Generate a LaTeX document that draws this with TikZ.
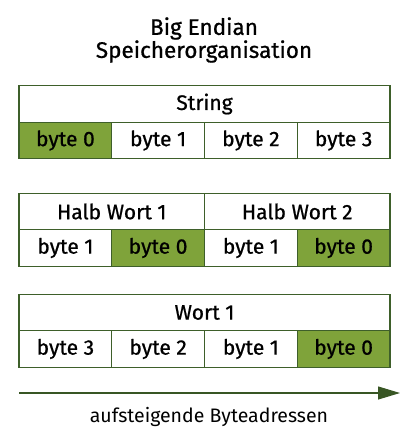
\documentclass[tikz,border=0pt]{standalone}
\usepackage{fontspec}
\setmainfont{Fira Sans}[FakeBold=0.8]
\newfontfamily\lightfont{Fira Sans}
\usetikzlibrary{arrows.meta}
\definecolor{bgreen}{RGB}{127,163,58}
\definecolor{bdark}{RGB}{62,95,42}
\definecolor{adark}{RGB}{56,86,36}
\tikzset{
  cell/.style={draw=bdark, line width=1.1pt, fill=white, minimum width=92.75pt, minimum height=36.5pt, inner sep=0pt, outer sep=0pt, font=\fontsize{21}{24}\selectfont},
  hot/.style={cell, fill=bgreen},
  wide/.style={cell, minimum width=371pt},
  half/.style={cell, minimum width=185.5pt},
}
\begin{document}
\begin{tikzpicture}[x=1pt,y=-1pt]
\useasboundingbox (0,0) rectangle (414,438);
\node[font=\fontsize{22.5}{23}\selectfont, align=center] (title) at (204,40) {Big Endian\\Speicherorganisation};
% row 1
\node[wide] (s) at (204.5,104) {String};
\node[hot] (s0) at (65.4,140.5) {byte 0};
\node[cell] (s1) at (158.1,140.5) {byte 1};
\node[cell] (s2) at (250.9,140.5) {byte 2};
\node[cell] (s3) at (343.6,140.5) {byte 3};
% row 2
\node[half] (h1) at (111.75,211.5) {Halb Wort 1};
\node[half] (h2) at (297.25,211.5) {Halb Wort 2};
\node[cell] (h11) at (65.4,248) {byte 1};
\node[hot] (h10) at (158.1,248) {byte 0};
\node[cell] (h21) at (250.9,248) {byte 1};
\node[hot] (h20) at (343.6,248) {byte 0};
% row 3
\node[wide] (w) at (204.5,312.5) {Wort 1};
\node[cell] (w3) at (65.4,349) {byte 3};
\node[cell] (w2) at (158.1,349) {byte 2};
\node[cell] (w1) at (250.9,349) {byte 1};
\node[hot] (w0) at (343.6,349) {byte 0};
% arrow
\coordinate (a0) at (19,393);
\coordinate (a1) at (400,393);
\draw[adark, line width=1.1pt, -{Triangle[length=22pt,width=13pt]}] (a0) -- (a1);
\node[font=\lightfont\fontsize{19.5}{22}\selectfont] (lbl) at (209,417) {aufsteigende Byteadressen};
\end{tikzpicture}
\end{document}
